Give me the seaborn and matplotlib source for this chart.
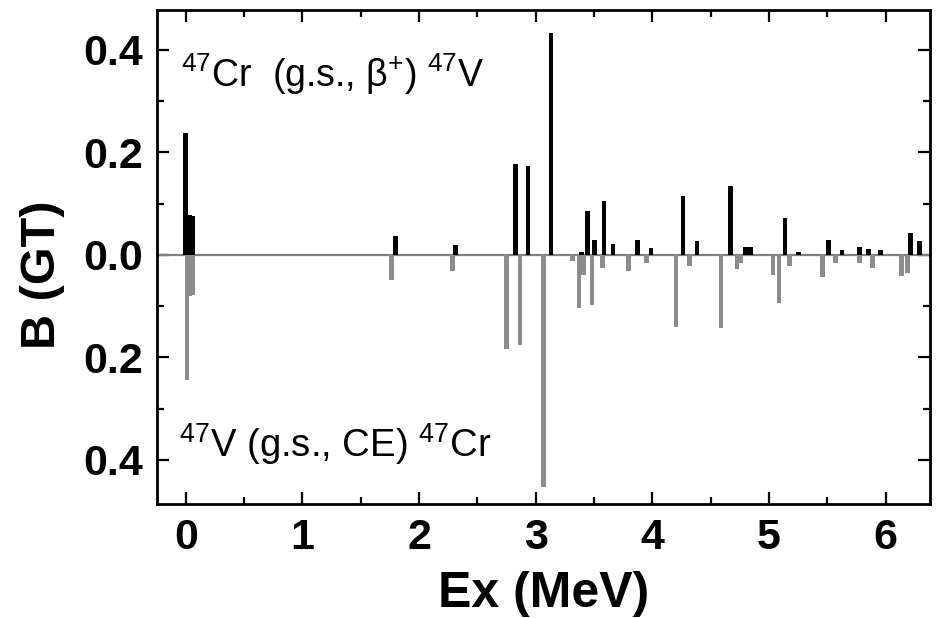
import numpy as np
import pandas as pd
import matplotlib
matplotlib.use("Agg")
import matplotlib.pyplot as plt
from matplotlib.ticker import MultipleLocator, FuncFormatter
import seaborn as sns

# 47Cr (g.s., beta+) 47V : excitation energy (MeV) and B(GT)
ex_beta = [0.00, 0.03, 0.06, 1.797, 2.314, 2.828, 2.935, 3.132, 3.39, 3.442,
           3.505, 3.586, 3.663, 3.873, 3.989, 4.263, 4.383, 4.670, 4.80, 4.84,
           5.137, 5.253, 5.510, 5.625, 5.774, 5.853, 5.955, 6.212, 6.290]
bgt_beta = [0.238, 0.078, 0.076, 0.037, 0.020, 0.178, 0.173, 0.433, 0.005, 0.085,
            0.029, 0.105, 0.021, 0.029, 0.013, 0.116, 0.027, 0.134, 0.016, 0.016,
            0.073, 0.005, 0.030, 0.009, 0.016, 0.011, 0.009, 0.043, 0.027]

# 47V (g.s., CE) 47Cr : excitation energy (MeV) and B(GT), drawn downward
ex_ce = [0.01, 0.03, 0.06, 1.765, 2.284, 2.751, 2.866, 3.068, 3.314, 3.372,
         3.410, 3.483, 3.573, 3.796, 3.948, 4.203, 4.319, 4.589, 4.726, 4.760,
         5.034, 5.087, 5.173, 5.458, 5.570, 5.776, 5.887, 6.136, 6.187]
bgt_ce = [0.245, 0.080, 0.078, 0.048, 0.031, 0.183, 0.176, 0.453, 0.012, 0.103,
          0.040, 0.097, 0.025, 0.031, 0.016, 0.141, 0.021, 0.142, 0.027, 0.015,
          0.040, 0.093, 0.021, 0.044, 0.016, 0.016, 0.026, 0.041, 0.035]

x_ticks = [0, 1, 2, 3, 4, 5, 6]
y_ticks = [-0.4, -0.2, 0.0, 0.2, 0.4]

label_top = "$^{47}$Cr  (g.s., β$^{+}$) $^{47}$V"
label_bottom = "$^{47}$V (g.s., CE) $^{47}$Cr"
x_label = "Ex (MeV)"
y_label = "B (GT)"

sns.set_theme(style="ticks")
plt.rcParams.update({
    "font.family": ["Liberation Sans", "DejaVu Sans"],
    "mathtext.fontset": "custom",
    "mathtext.rm": "Liberation Sans",
    "mathtext.it": "Liberation Sans:italic",
    "mathtext.bf": "Liberation Sans:bold",
    "axes.linewidth": 2.0,
    "axes.edgecolor": "black",
    "axes.labelcolor": "black",
    "text.color": "black",
    "xtick.color": "black",
    "ytick.color": "black",
    "xtick.direction": "in",
    "ytick.direction": "in",
})

beta_df = pd.DataFrame({"Ex": ex_beta, "B": bgt_beta})
ce_df = pd.DataFrame({"Ex": ex_ce, "B": -np.asarray(bgt_ce)})

fig = plt.figure(figsize=(9.37, 6.18), dpi=100)
ax = fig.add_axes([0.1672, 0.1845, 0.8253, 0.7993])

bar_w = 0.04  # MeV


def draw_bars(df, color):
    step = np.min(np.diff(np.unique(df["Ex"])))
    sns.barplot(data=df, x="Ex", y="B", orient="x", native_scale=True,
                color=color, saturation=1, width=bar_w / step,
                errorbar=None, linewidth=0, ax=ax, zorder=3)


ax.axhline(0, color="#808080", lw=1.6, zorder=2)
draw_bars(beta_df, "#000000")
draw_bars(ce_df, "#8c8c8c")

ax.set_xlim(-0.25, 6.38)
ax.set_ylim(-0.486, 0.478)

ax.set_xticks(x_ticks)
ax.xaxis.set_minor_locator(MultipleLocator(0.5))
ax.set_yticks(y_ticks)
ax.yaxis.set_minor_locator(MultipleLocator(0.1))
ax.yaxis.set_major_formatter(FuncFormatter(lambda v, p: f"{abs(v):.1f}"))
ax.xaxis.set_major_formatter(FuncFormatter(lambda v, p: f"{v:.0f}"))

ax.tick_params(which="both", top=True, right=True, direction="in", width=1.6)
ax.tick_params(which="major", length=8.5)
ax.tick_params(which="minor", length=5)
ax.tick_params(axis="x", which="major", pad=10, labelsize=31)
ax.tick_params(axis="y", which="major", pad=10, labelsize=31)
for lab in ax.get_xticklabels() + ax.get_yticklabels():
    lab.set_fontweight("bold")

ax.set_xlabel(x_label, fontsize=36, fontweight="bold")
ax.set_ylabel(y_label, fontsize=35, fontweight="bold")
ax.xaxis.set_label_coords(0.5, -0.135)
ax.yaxis.set_label_coords(-0.118, 0.464)

ax.text(-0.04, 0.328, label_top, fontsize=27, va="baseline", ha="left")
ax.text(-0.06, -0.394, label_bottom, fontsize=27.5, va="baseline", ha="left")

fig.savefig("out.png", dpi=100)
